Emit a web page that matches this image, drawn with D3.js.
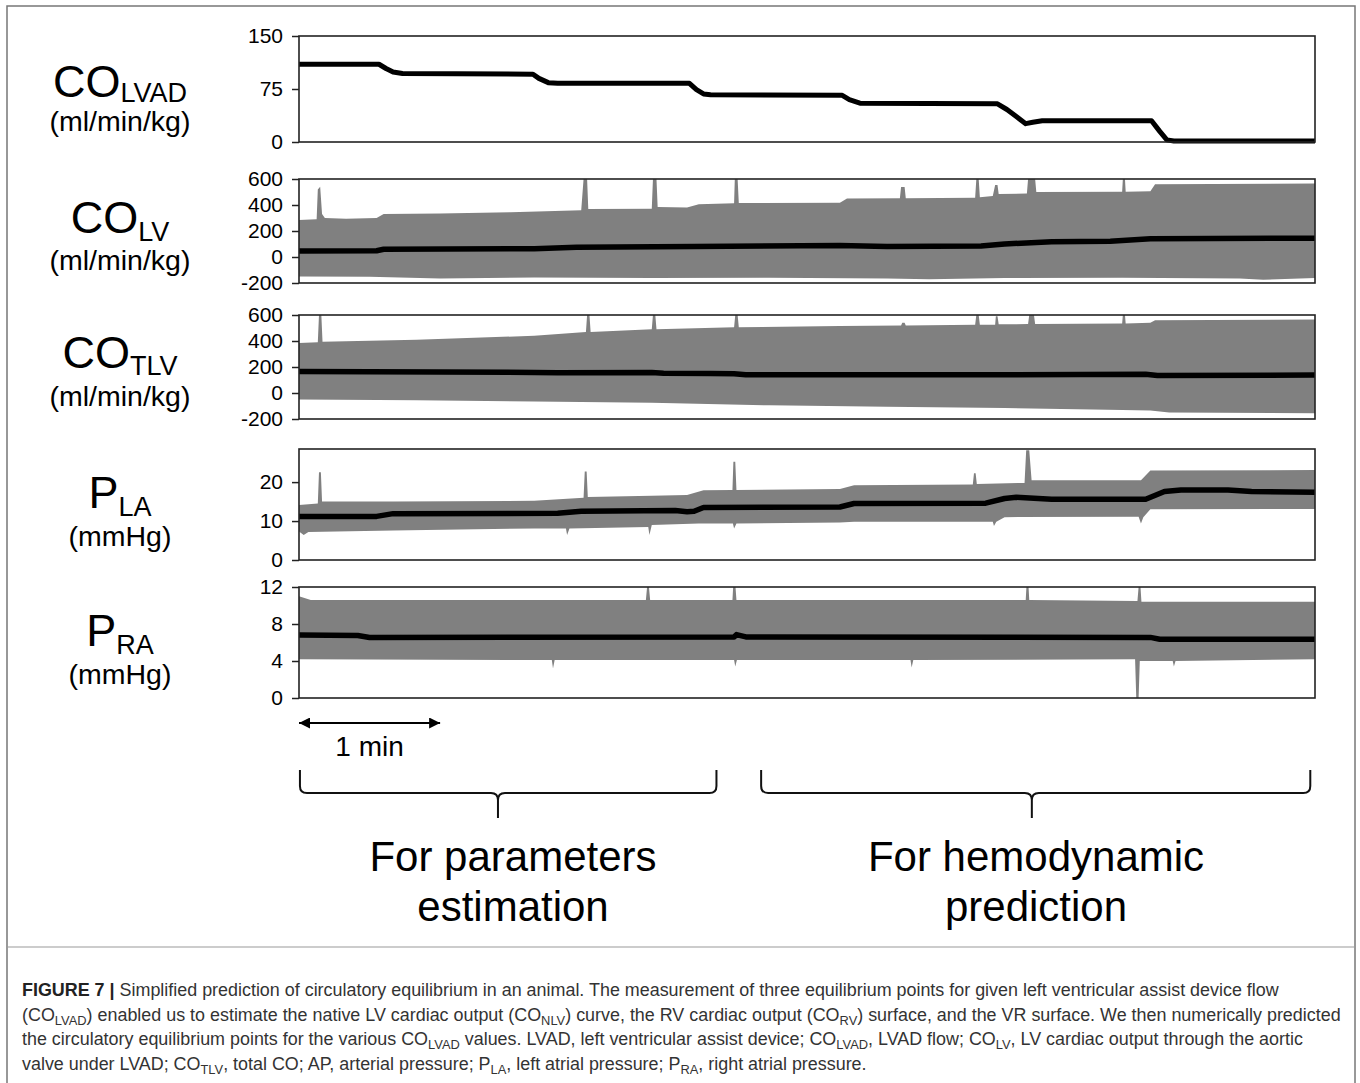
<!DOCTYPE html>
<html>
<head>
<meta charset="utf-8">
<script src="https://cdn.jsdelivr.net/npm/d3@7/dist/d3.min.js"></script>
<style>
  html, body { margin: 0; padding: 0; background: #fff; }
  svg { display: block; font-family: "Liberation Sans", Arial, sans-serif; }
</style>
</head>
<body>
<svg id="fig" width="1360" height="1083"></svg>
<script>
// time axis in seconds (whole record ~7.2 min)
const timeDomain = [0, 432];

// ---- CO_LVAD (ml/min/kg)
const colvadLine = [[0,110],[34,110],[37,104],[40,99],[44,97],[99.5,96],[102,90],[106,84],[110,83],[166,83],[169,74],[172,68],[175,67],[231,66],[234,60],[238.5,55],[297,54],[301,46],[305,36],[309,26],[312,28],[316,30],[362.5,30],[366,15],[369,3],[372,1.5],[432,1.5]];
const colvadTicks = [0, 75, 150];

// ---- CO_LV (ml/min/kg)
const colvMean = [[0,46],[33,48],[36,60],[100,64],[118,75],[168,80],[230,88],[250,80],[290,84],[300,100],[320,118],[345,122],[362,140],[432,145]];
const colvUpper = [[0,285],[7.5,290],[8,520],[9,540],[9.8,330],[11,300],[20,295],[33,300],[36,330],[60,335],[90,345],[120,360],[121,600],[122.5,600],[123,370],[150,372],[150.5,600],[152,600],[152.5,385],[165,380],[170,405],[185,413],[185.3,600],[186.5,600],[187,415],[230,418],[233,450],[255.5,452],[256,538],[257.5,538],[258,452],[287.5,455],[288,600],[289,600],[289.5,460],[295,470],[296,554],[297,554],[297.5,485],[309.5,488],[310,600],[313,600],[313.5,500],[350,502],[350.3,600],[351.2,600],[351.5,502],[362,505],[364,560],[432,565]];
const colvLower = [[0,-150],[30,-152],[60,-165],[100,-158],[150,-162],[200,-160],[250,-165],[268,-172],[300,-162],[350,-160],[400,-165],[410,-175],[432,-162]];
const colvTicks = [-200, 0, 200, 400, 600];

// ---- CO_TLV (ml/min/kg)
const cotlvMean = [[0,165],[100,158],[110,155],[150,158],[155,152],[175,150],[185,148],[190,140],[300,140],[360,145],[365,135],[432,138]];
const cotlvUpper = [[0,385],[8,390],[8.5,600],[9.5,600],[10,395],[50,410],[100,440],[122,470],[122.5,600],[123.5,600],[124,470],[150,490],[150.5,600],[151.5,600],[152,490],[185,505],[185.5,600],[186.5,600],[187,505],[230,515],[256,520],[256.5,540],[257.5,540],[258,520],[287.5,525],[288,600],[289,600],[289.5,525],[296,525],[296.3,590],[297,590],[297.5,528],[310,530],[310.5,600],[312.5,600],[313,530],[350,535],[350.3,600],[351.2,600],[351.5,535],[362,540],[364,560],[432,565]];
const cotlvLower = [[0,-50],[50,-55],[100,-65],[150,-75],[200,-95],[250,-105],[300,-115],[350,-130],[362,-135],[370,-150],[432,-155]];
const cotlvTicks = [-200, 0, 200, 400, 600];

// ---- P_LA (mmHg)
const plaMean = [[0,11.2],[33,11.2],[40,11.9],[110,12.0],[120,12.5],[160,12.7],[165,12.4],[168,12.5],[172,13.5],[230,13.6],[236,14.5],[292,14.6],[300,15.8],[305,16.1],[320,15.6],[360,15.6],[368,17.6],[375,18.0],[395,18.0],[405,17.6],[432,17.4]];
const plaUpper = [[0,14.1],[8,14.5],[8.5,22.5],[9.3,22.5],[9.8,15],[40,15],[100,15.2],[121,16],[121.5,22.7],[122.3,22.7],[122.8,16.2],[150,16.5],[165,16.7],[172,17.9],[184.3,18],[184.7,25.2],[185.5,25.2],[186,18],[230,18.2],[236,19.2],[286.5,19.4],[287,22.3],[287.7,22.3],[288.2,19.5],[308.5,19.8],[309.2,28.2],[310.5,28.2],[311.5,20.5],[358,20.5],[362,23],[432,23.1]];
const plaLower = [[0,7.3],[2,6.4],[4,7.2],[40,7.6],[100,8.1],[113.5,8.1],[114,6.4],[115,8.1],[148.5,8.5],[149,6.4],[150,9],[170,9.4],[184.5,9.4],[185,8.1],[186,9.4],[230,9.6],[236,9.8],[295,9.8],[295.5,8.7],[296.5,9.8],[300,11],[357,11.1],[358,9.4],[359,11],[362,13],[432,13.1]];
const plaTicks = [0, 10, 20];

// ---- P_RA (mmHg)
const praMean = [[0,6.8],[25,6.75],[30,6.55],[185,6.6],[186,6.85],[190,6.6],[362,6.55],[366,6.35],[432,6.35]];
const praUpper = [[0,11],[5,10.6],[147.5,10.6],[148,12],[148.8,12],[149.3,10.6],[184.3,10.6],[184.6,12],[185.6,12],[186,10.6],[309,10.6],[309.3,12],[310.2,12],[310.5,10.6],[356.5,10.5],[357,12],[357.8,12],[358.2,10.4],[432,10.4]];
const praLower = [[0,4.2],[107.5,4.1],[108,3.2],[108.7,4.1],[185,4.1],[185.5,3.4],[186.2,4.1],[260,4.1],[260.5,3.3],[261.2,4.1],[355.5,4.2],[356,0],[357,0],[357.5,4],[371.5,4],[372,3.4],[372.7,4],[432,4.2]];
const praTicks = [0, 4, 8, 12];

const svg = d3.select("#fig");

// outer frame + caption separator
svg.append("rect")
    .attr("x", 7).attr("y", 6)
    .attr("width", 1348).attr("height", 1100)
    .attr("fill", "none")
    .attr("stroke", "#777")
    .attr("stroke-width", 1.5);

svg.append("line")
    .attr("x1", 7).attr("x2", 1355)
    .attr("y1", 947).attr("y2", 947)
    .attr("stroke", "#999")
    .attr("stroke-width", 1);

const plotLeft = 299, plotRight = 1315;
const x = d3.scaleLinear().domain(timeDomain).range([plotLeft, plotRight]);

const panels = [
    { top: 36,  bottom: 142, domain: [0, 150],    ticks: colvadTicks, mean: colvadLine, main: "CO", sub: "LVAD", unit: "(ml/min/kg)", labelY: 97,  subDy: 5, unitY: 131, lineW: 5 },
    { top: 179, bottom: 283, domain: [-200, 600], ticks: colvTicks,   mean: colvMean,  upper: colvUpper,  lower: colvLower,  main: "CO", sub: "LV",  unit: "(ml/min/kg)", labelY: 233, subDy: 8, unitY: 270, lineW: 5.5 },
    { top: 315, bottom: 419, domain: [-200, 600], ticks: cotlvTicks,  mean: cotlvMean, upper: cotlvUpper, lower: cotlvLower, main: "CO", sub: "TLV", unit: "(ml/min/kg)", labelY: 368, subDy: 7, unitY: 406, lineW: 5.5 },
    { top: 449, bottom: 560, domain: [0, 28.5],   ticks: plaTicks,    mean: plaMean,   upper: plaUpper,   lower: plaLower,   main: "P",  sub: "LA",  unit: "(mmHg)",      labelY: 508, subDy: 8, unitY: 546, lineW: 5.5 },
    { top: 587, bottom: 698, domain: [0, 12],     ticks: praTicks,    mean: praMean,   upper: praUpper,   lower: praLower,   main: "P",  sub: "RA",  unit: "(mmHg)",      labelY: 646, subDy: 8, unitY: 684, lineW: 5.5 }
];

panels.forEach(p => {
    const y = d3.scaleLinear().domain(p.domain).range([p.bottom, p.top]);
    const g = svg.append("g");
    const line = d3.line().x(d => x(d[0])).y(d => y(d[1]));

    // gray beat-to-beat band
    if (p.upper) {
        const up = line(p.upper);
        const lo = line(p.lower.slice().reverse());
        g.append("path")
            .attr("d", up + "L" + lo.slice(1) + "Z")
            .attr("fill", "#808080");
    }

    // mean trace
    g.append("path")
        .datum(p.mean)
        .attr("d", line)
        .attr("fill", "none")
        .attr("stroke", "#000")
        .attr("stroke-width", p.lineW)
        .attr("stroke-linejoin", "round");

    // box
    g.append("rect")
        .attr("x", plotLeft).attr("y", p.top)
        .attr("width", plotRight - plotLeft).attr("height", p.bottom - p.top)
        .attr("fill", "none")
        .attr("stroke", "#222")
        .attr("stroke-width", 1.6);

    // y axis
    const ax = g.append("g")
        .attr("transform", `translate(${plotLeft},0)`)
        .call(d3.axisLeft(y).tickValues(p.ticks).tickSize(7).tickPadding(9).tickFormat(d => String(d)));
    ax.select(".domain").remove();
    ax.selectAll("line").attr("stroke", "#222").attr("stroke-width", 1.5);
    ax.selectAll("text")
        .attr("fill", "#000")
        .style("font-size", "21px")
        .style("font-family", "'Liberation Sans', Arial, sans-serif");

    // left label
    const lab = g.append("text")
        .attr("x", 120).attr("y", p.labelY)
        .attr("text-anchor", "middle")
        .attr("fill", "#000");
    lab.append("tspan").text(p.main).style("font-size", "45px");
    lab.append("tspan").text(p.sub).attr("dy", p.subDy).style("font-size", "27px");

    g.append("text")
        .attr("x", 120).attr("y", p.unitY)
        .attr("text-anchor", "middle")
        .attr("fill", "#000")
        .style("font-size", "28.5px")
        .text(p.unit);
});

// ---- 1 min scale arrow
const arrowY = 723;
const defs = svg.append("defs");
["start", "end"].forEach(k => {
    defs.append("marker")
        .attr("id", "arr-" + k)
        .attr("viewBox", "0 0 10 10")
        .attr("refX", k === "end" ? 10 : 0).attr("refY", 5)
        .attr("markerWidth", 7.5).attr("markerHeight", 5.5)
        .attr("markerUnits", "strokeWidth")
        .attr("orient", "auto")
        .append("path")
        .attr("d", k === "end" ? "M0,0 L10,5 L0,10 Z" : "M10,0 L0,5 L10,10 Z")
        .attr("fill", "#000");
});
svg.append("line")
    .attr("x1", x(0)).attr("x2", x(60))
    .attr("y1", arrowY).attr("y2", arrowY)
    .attr("stroke", "#000").attr("stroke-width", 2)
    .attr("marker-start", "url(#arr-start)")
    .attr("marker-end", "url(#arr-end)");
svg.append("text")
    .attr("x", x(30)).attr("y", 756)
    .attr("text-anchor", "middle")
    .style("font-size", "28px")
    .text("1 min");

// ---- braces
function brace(x0, x1, xm) {
    const top = 770, hy = 793, tip = 818, r = 7;
    return `M${x0},${top} L${x0},${hy - r} Q${x0},${hy} ${x0 + r},${hy} L${xm - r},${hy} Q${xm},${hy} ${xm},${hy + r} L${xm},${tip}` +
           ` M${xm},${hy + r} Q${xm},${hy} ${xm + r},${hy} L${x1 - r},${hy} Q${x1},${hy} ${x1},${hy - r} L${x1},${top}`;
}
const braceSets = [
    { t0: 0.4, t1: 177.5, tip: 84.6, textX: 513, lines: ["For parameters", "estimation"] },
    { t0: 196.5, t1: 430, tip: 311.6, textX: 1036, lines: ["For hemodynamic", "prediction"] }
];
braceSets.forEach(b => {
    svg.append("path")
        .attr("d", brace(x(b.t0), x(b.t1), x(b.tip)))
        .attr("fill", "none")
        .attr("stroke", "#111")
        .attr("stroke-width", 2);
    b.lines.forEach((s, i) => {
        svg.append("text")
            .attr("x", b.textX).attr("y", 871 + i * 50)
            .attr("text-anchor", "middle")
            .style("font-size", "42px")
            .text(s);
    });
});

// ---- caption
const captionLines = [
    [["FIGURE 7 |", "b"], [" Simplified prediction of circulatory equilibrium in an animal. The measurement of three equilibrium points for given left ventricular assist device flow"]],
    [["(CO"], ["LVAD", "s"], [") enabled us to estimate the native LV cardiac output (CO"], ["NLV", "s"], [") curve, the RV cardiac output (CO"], ["RV", "s"], [") surface, and the VR surface. We then numerically predicted"]],
    [["the circulatory equilibrium points for the various CO"], ["LVAD", "s"], [" values. LVAD, left ventricular assist device; CO"], ["LVAD", "s"], [", LVAD flow; CO"], ["LV", "s"], [", LV cardiac output through the aortic"]],
    [["valve under LVAD; CO"], ["TLV", "s"], [", total CO; AP, arterial pressure; P"], ["LA", "s"], [", left atrial pressure; P"], ["RA", "s"], [", right atrial pressure."]]
];
const capFont = 16;
const capTexts = captionLines.map((segs, i) => {
    const t = svg.append("text")
        .attr("x", 22).attr("y", 996 + i * 24.7)
        .attr("fill", "#333")
        .style("font-size", capFont + "px");
    let inSub = false;
    segs.forEach(([s, k]) => {
        const ts = t.append("tspan").text(s);
        if (k === "b") ts.style("font-weight", "bold").attr("fill", "#222");
        if (k === "s") {
            ts.attr("dy", 4).attr("class", "sub").style("font-size", (capFont * 0.72) + "px");
            inSub = true;
        } else if (inSub) {
            ts.attr("dy", -4);
            inSub = false;
        }
    });
    return t;
});
// fit the longest caption line to the reference width
const w2 = capTexts[1].node().getComputedTextLength();
const k = 1319 / w2;
capTexts.forEach(t => {
    t.style("font-size", (capFont * k) + "px");
    t.selectAll("tspan.sub").style("font-size", (capFont * k * 0.72) + "px");
});
</script>
</body>
</html>
